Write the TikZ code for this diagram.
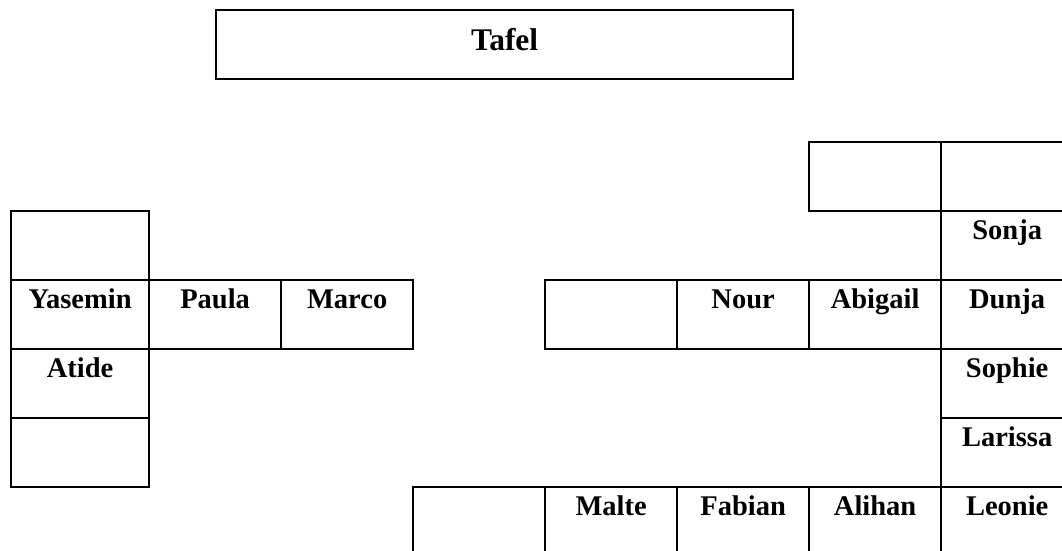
\documentclass[tikz,border=0pt]{standalone}
\usepackage{fontspec}
\setmainfont{Liberation Serif}
\begin{document}
\begin{tikzpicture}[x=1pt,y=-1pt,
  cell/.style={draw, line width=2.3pt, anchor=north west, inner xsep=0pt, inner ysep=0pt,
    minimum width=132pt, text height=28pt, text depth=41pt,
    font=\fontsize{28.5pt}{34pt}\selectfont\bfseries},
  widecell/.style={cell, minimum width=138pt},
  board/.style={draw, line width=2.3pt, anchor=north west, inner xsep=0pt, inner ysep=0pt,
    minimum width=577pt, text height=40.8pt, text depth=28.4pt,
    font=\fontsize{31.5pt}{38pt}\selectfont\bfseries}]
\useasboundingbox (0,0) rectangle (1062,550);
\clip (0,0) rectangle (1062,550);
\fill[white] (0,0) rectangle (1062,550);
% board
\node[board] (tafel) at (215,8.5) {Tafel};
% left column
\node[widecell] (l1) at (10,210) {};
\node[widecell] (yasemin) at (10,279) {Yasemin};
\node[widecell] (atide) at (10,348) {Atide};
\node[widecell] (l4) at (10,417) {};
\node[cell] (paula) at (148,279) {Paula};
\node[cell] (marco) at (280,279) {Marco};
% middle right row
\node[cell] (m1) at (544,279) {};
\node[cell] (nour) at (676,279) {Nour};
\node[cell] (abigail) at (808,279) {Abigail};
% top right
\node[cell] (t1) at (808,141) {};
\node[cell] (t2) at (940,141) {};
% right column
\node[cell] (sonja) at (940,210) {Sonja};
\node[cell] (dunja) at (940,279) {Dunja};
\node[cell] (sophie) at (940,348) {Sophie};
\node[cell] (larissa) at (940,417) {Larissa};
\node[cell] (leonie) at (940,486) {Leonie};
% bottom row
\node[cell] (b1) at (412,486) {};
\node[cell] (malte) at (544,486) {Malte};
\node[cell] (fabian) at (676,486) {Fabian};
\node[cell] (alihan) at (808,486) {Alihan};
\end{tikzpicture}
\end{document}
